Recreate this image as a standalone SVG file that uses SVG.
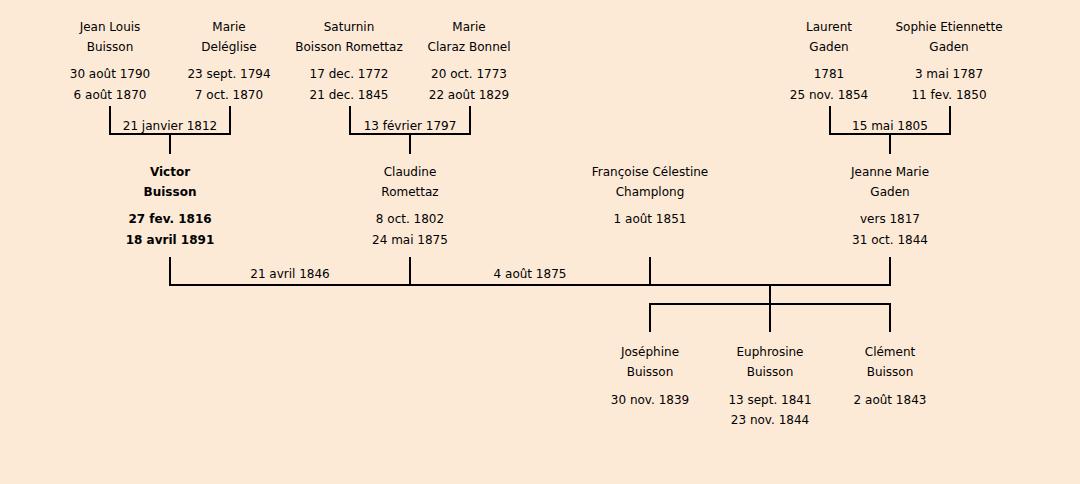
<svg xmlns="http://www.w3.org/2000/svg" width="1080" height="484" viewBox="0 0 1080 484">
<style>
text{font-family:"DejaVu Sans","Liberation Sans",sans-serif;font-size:12px;fill:#000;text-anchor:middle}
.b{font-weight:bold}
.ln{stroke:#000;stroke-width:2;fill:none;stroke-linecap:square}
</style>
<rect width="1080" height="484" fill="#FCEAD7"/>
<g id="connectors">
<path class="ln" d="M110,107V134H230V107M170,134V153"/>
<path class="ln" d="M350,107V134H470V107M410,134V153"/>
<path class="ln" d="M830,107V134H950V107M890,134V153"/>
<path class="ln" d="M170,258V285H890V258M410,258V285M650,258V285"/>
<path class="ln" d="M770,285V304M650,331V304H890V331M770,304V331"/>
<text x="170" y="130">21 janvier 1812</text>
<text x="410" y="130">13 février 1797</text>
<text x="890" y="130">15 mai 1805</text>
<text x="290" y="278">21 avril 1846</text>
<text x="530" y="278">4 août 1875</text>
</g>
<g id="jean-louis-buisson"><text x="110" y="31">Jean Louis</text><text x="110" y="51">Buisson</text><text x="110" y="78">30 août 1790</text><text x="110" y="99">6 août 1870</text></g>
<g id="marie-deleglise"><text x="229" y="31">Marie</text><text x="229" y="51">Deléglise</text><text x="229" y="78">23 sept. 1794</text><text x="229" y="99">7 oct. 1870</text></g>
<g id="saturnin-boisson-romettaz"><text x="349" y="31">Saturnin</text><text x="349" y="51">Boisson Romettaz</text><text x="349" y="78">17 dec. 1772</text><text x="349" y="99">21 dec. 1845</text></g>
<g id="marie-claraz-bonnel"><text x="469" y="31">Marie</text><text x="469" y="51">Claraz Bonnel</text><text x="469" y="78">20 oct. 1773</text><text x="469" y="99">22 août 1829</text></g>
<g id="laurent-gaden"><text x="829" y="31">Laurent</text><text x="829" y="51">Gaden</text><text x="829" y="78">1781</text><text x="829" y="99">25 nov. 1854</text></g>
<g id="sophie-etiennette-gaden"><text x="949" y="31">Sophie Etiennette</text><text x="949" y="51">Gaden</text><text x="949" y="78">3 mai 1787</text><text x="949" y="99">11 fev. 1850</text></g>
<g id="victor-buisson" class="b"><text class="b" x="170" y="176">Victor</text><text class="b" x="170" y="196">Buisson</text><text class="b" x="170" y="223">27 fev. 1816</text><text class="b" x="170" y="244">18 avril 1891</text></g>
<g id="claudine-romettaz"><text x="410" y="176">Claudine</text><text x="410" y="196">Romettaz</text><text x="410" y="223">8 oct. 1802</text><text x="410" y="244">24 mai 1875</text></g>
<g id="francoise-celestine-champlong"><text x="650" y="176">Françoise Célestine</text><text x="650" y="196">Champlong</text><text x="650" y="223">1 août 1851</text></g>
<g id="jeanne-marie-gaden"><text x="890" y="176">Jeanne Marie</text><text x="890" y="196">Gaden</text><text x="890" y="223">vers 1817</text><text x="890" y="244">31 oct. 1844</text></g>
<g id="josephine-buisson"><text x="650" y="356">Joséphine</text><text x="650" y="376">Buisson</text><text x="650" y="404">30 nov. 1839</text></g>
<g id="euphrosine-buisson"><text x="770" y="356">Euphrosine</text><text x="770" y="376">Buisson</text><text x="770" y="404">13 sept. 1841</text><text x="770" y="424">23 nov. 1844</text></g>
<g id="clement-buisson"><text x="890" y="356">Clément</text><text x="890" y="376">Buisson</text><text x="890" y="404">2 août 1843</text></g>
</svg>
